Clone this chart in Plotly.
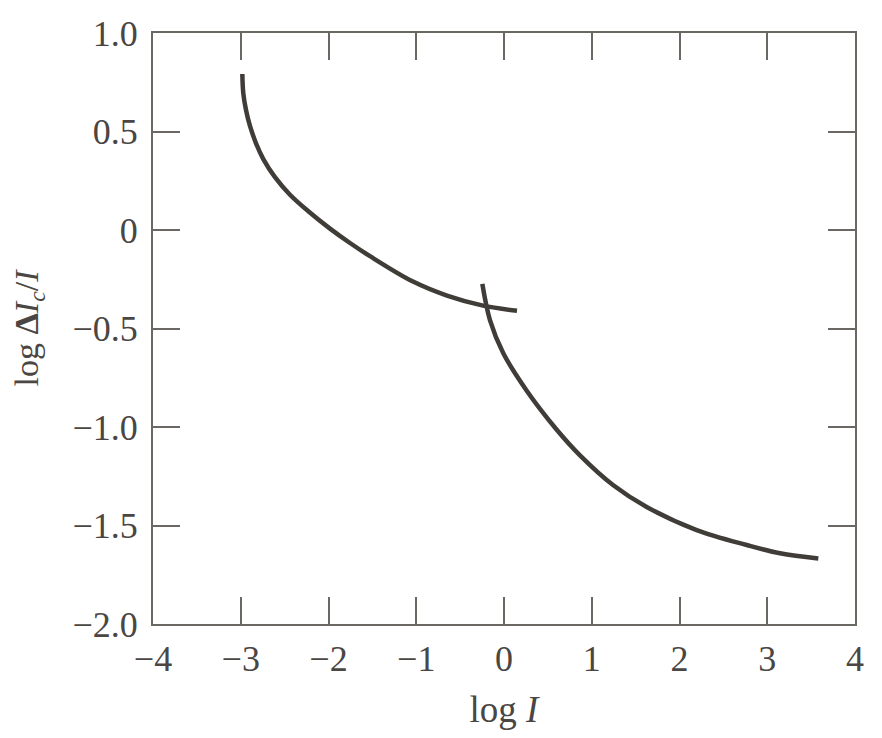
import plotly.graph_objects as go

# Data
rod_log_I = [-2.982, -2.971, -2.94, -2.895, -2.826, -2.743, -2.61, -2.439, -2.23, -1.983,
             -1.755, -1.527, -1.037, -0.65, -0.239, 0.148]
rod_log_dI = [0.792, 0.694, 0.609, 0.528, 0.440, 0.360, 0.268, 0.179, 0.095, 0.007,
              -0.066, -0.133, -0.262, -0.333, -0.384, -0.410]

cone_log_I = [-0.247, -0.16, -0.008, 0.259, 0.601, 0.866, 1.246, 1.626, 2.196, 2.766, 3.145, 3.582]
cone_log_dI = [-0.274, -0.457, -0.626, -0.816, -1.014, -1.144, -1.296, -1.406, -1.523, -1.599, -1.641, -1.667]

x_ticks = [-4, -3, -2, -1, 0, 1, 2, 3, 4]
x_tick_text = ["−4", "−3", "−2", "−1", "0", "1", "2", "3", "4"]
y_ticks = [1.0, 0.5, 0.0, -0.5, -1.0, -1.5, -2.0]
y_tick_text = ["1.0", "0.5", "0", "−0.5", "−1.0", "−1.5", "−2.0"]

line_color = "#403c38"
axis_color = "#6b6863"
text_color = "#4a4643"
font_family = "Liberation Serif, Times New Roman, serif"

fig = go.Figure()
for xs, ys in [(rod_log_I, rod_log_dI), (cone_log_I, cone_log_dI)]:
    fig.add_trace(go.Scatter(
        x=xs, y=ys, mode="lines",
        line=dict(color=line_color, width=4.5, shape="spline", smoothing=1.0),
        showlegend=False, hoverinfo="skip",
    ))

axis_common = dict(
    showgrid=False, zeroline=False, showline=True, linecolor=axis_color, linewidth=2,
    ticks="inside", ticklen=27, tickwidth=2, tickcolor=axis_color, mirror="ticks",
    tickfont=dict(family=font_family, size=36, color=text_color),
)

fig.update_xaxes(
    range=[-4, 4], tickvals=x_ticks, ticktext=x_tick_text,
    title=dict(text="log <i>I</i>", font=dict(family=font_family, size=37, color=text_color), standoff=18),
    ticklabelstandoff=2,
    **axis_common,
)
fig.update_yaxes(
    range=[-2.0, 1.0], tickvals=y_ticks, ticktext=y_tick_text,
    title=dict(text="log <b>Δ</b><i>I</i><sub><i>c</i></sub>/<i>I</i>",
               font=dict(family=font_family, size=34, color=text_color), standoff=24),
    ticklabelstandoff=6,
    automargin=False,
    **axis_common,
)

fig.update_layout(
    width=882, height=738,
    margin=dict(l=153, r=27, t=33, b=114, autoexpand=False),
    paper_bgcolor="white", plot_bgcolor="white",
    font=dict(family=font_family, color=text_color),
)

fig.write_html("out.html", config={"displayModeBar": False},
               post_script="document.body.style.margin='0';")
